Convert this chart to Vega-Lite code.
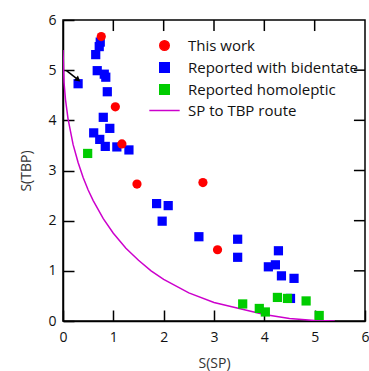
{
  "$schema": "https://vega.github.io/schema/vega-lite/v6.json",
  "width": 302,
  "height": 301,
  "autosize": "none",
  "padding": {"left": 63, "top": 20, "right": 4, "bottom": 50},
  "background": "white",
  "config": {
    "view": {"stroke": "black", "strokeWidth": 1.5},
    "font": "Open Sans",
    "axis": {
      "domainColor": "black", "domainWidth": 1.5, "tickColor": "black", "tickWidth": 1.5,
      "tickSize": -11, "labelFontSize": 14, "labelColor": "#111", "titleFontSize": 14,
      "titleFontWeight": "normal", "titleColor": "#333", "grid": false, "labelFlush": false
    }
  },
  "datasets": {
    "points": [
      {"x": 0.74, "y": 5.56, "type": "Reported with bidentate"},
      {"x": 0.72, "y": 5.47, "type": "Reported with bidentate"},
      {"x": 0.65, "y": 5.31, "type": "Reported with bidentate"},
      {"x": 0.68, "y": 4.99, "type": "Reported with bidentate"},
      {"x": 0.82, "y": 4.92, "type": "Reported with bidentate"},
      {"x": 0.85, "y": 4.86, "type": "Reported with bidentate"},
      {"x": 0.30, "y": 4.73, "type": "Reported with bidentate"},
      {"x": 0.88, "y": 4.57, "type": "Reported with bidentate"},
      {"x": 0.80, "y": 4.06, "type": "Reported with bidentate"},
      {"x": 0.93, "y": 3.84, "type": "Reported with bidentate"},
      {"x": 0.61, "y": 3.75, "type": "Reported with bidentate"},
      {"x": 0.73, "y": 3.62, "type": "Reported with bidentate"},
      {"x": 0.84, "y": 3.48, "type": "Reported with bidentate"},
      {"x": 1.07, "y": 3.47, "type": "Reported with bidentate"},
      {"x": 1.31, "y": 3.41, "type": "Reported with bidentate"},
      {"x": 1.86, "y": 2.34, "type": "Reported with bidentate"},
      {"x": 2.09, "y": 2.30, "type": "Reported with bidentate"},
      {"x": 1.97, "y": 1.99, "type": "Reported with bidentate"},
      {"x": 2.70, "y": 1.68, "type": "Reported with bidentate"},
      {"x": 3.47, "y": 1.63, "type": "Reported with bidentate"},
      {"x": 3.47, "y": 1.27, "type": "Reported with bidentate"},
      {"x": 4.28, "y": 1.40, "type": "Reported with bidentate"},
      {"x": 4.22, "y": 1.12, "type": "Reported with bidentate"},
      {"x": 4.08, "y": 1.08, "type": "Reported with bidentate"},
      {"x": 4.34, "y": 0.90, "type": "Reported with bidentate"},
      {"x": 4.59, "y": 0.85, "type": "Reported with bidentate"},
      {"x": 4.52, "y": 0.45, "type": "Reported with bidentate"},
      {"x": 0.49, "y": 3.34, "type": "Reported homoleptic"},
      {"x": 3.57, "y": 0.34, "type": "Reported homoleptic"},
      {"x": 3.90, "y": 0.25, "type": "Reported homoleptic"},
      {"x": 4.02, "y": 0.18, "type": "Reported homoleptic"},
      {"x": 4.26, "y": 0.47, "type": "Reported homoleptic"},
      {"x": 4.46, "y": 0.45, "type": "Reported homoleptic"},
      {"x": 4.83, "y": 0.40, "type": "Reported homoleptic"},
      {"x": 5.09, "y": 0.11, "type": "Reported homoleptic"},
      {"x": 0.76, "y": 5.67, "type": "This work"},
      {"x": 1.04, "y": 4.27, "type": "This work"},
      {"x": 1.17, "y": 3.53, "type": "This work"},
      {"x": 1.47, "y": 2.73, "type": "This work"},
      {"x": 2.78, "y": 2.76, "type": "This work"},
      {"x": 3.07, "y": 1.42, "type": "This work"}
    ],
    "route": [
      {"x": 0.0, "y": 5.40, "type": "SP to TBP route"},
      {"x": 0.02, "y": 4.76, "type": "SP to TBP route"},
      {"x": 0.05, "y": 4.41, "type": "SP to TBP route"},
      {"x": 0.1, "y": 4.03, "type": "SP to TBP route"},
      {"x": 0.2, "y": 3.52, "type": "SP to TBP route"},
      {"x": 0.3, "y": 3.16, "type": "SP to TBP route"},
      {"x": 0.4, "y": 2.86, "type": "SP to TBP route"},
      {"x": 0.5, "y": 2.61, "type": "SP to TBP route"},
      {"x": 0.6, "y": 2.40, "type": "SP to TBP route"},
      {"x": 0.8, "y": 2.04, "type": "SP to TBP route"},
      {"x": 1.0, "y": 1.75, "type": "SP to TBP route"},
      {"x": 1.25, "y": 1.45, "type": "SP to TBP route"},
      {"x": 1.5, "y": 1.21, "type": "SP to TBP route"},
      {"x": 1.75, "y": 1.00, "type": "SP to TBP route"},
      {"x": 2.0, "y": 0.83, "type": "SP to TBP route"},
      {"x": 2.5, "y": 0.56, "type": "SP to TBP route"},
      {"x": 3.0, "y": 0.37, "type": "SP to TBP route"},
      {"x": 3.5, "y": 0.25, "type": "SP to TBP route"},
      {"x": 4.0, "y": 0.13, "type": "SP to TBP route"},
      {"x": 4.5, "y": 0.05, "type": "SP to TBP route"},
      {"x": 5.0, "y": 0.01, "type": "SP to TBP route"},
      {"x": 5.4, "y": 0.0, "type": "SP to TBP route"}
    ],
    "arrow": [
      {"x": 0.07, "y": 4.99},
      {"x": 0.31, "y": 4.80}
    ],
    "arrowhead": [
      {"x": 0.30, "y": 4.81}
    ],
    "topticks": [{"x": 1}, {"x": 2}, {"x": 3}, {"x": 4}, {"x": 5}],
    "rightticks": [{"y": 1}, {"y": 2}, {"y": 3}, {"y": 4}, {"y": 5}]
  },
  "layer": [
    {
      "data": {"name": "route"},
      "mark": {"type": "line", "color": "#cc00cc", "strokeWidth": 1.5, "clip": true},
      "encoding": {
        "x": {"field": "x", "type": "quantitative", "scale": {"domain": [0, 6], "nice": false},
              "axis": {"values": [0,1,2,3,4,5,6], "title": "S(SP)", "labelPadding": 20, "titlePadding": 12}},
        "y": {"field": "y", "type": "quantitative", "scale": {"domain": [0, 6], "nice": false},
              "axis": {"values": [0,1,2,3,4,5,6], "title": "S(TBP)", "labelPadding": 18, "titlePadding": 14}},
        "color": {"field": "type", "type": "nominal",
          "scale": {"domain": ["This work", "Reported with bidentate", "Reported homoleptic", "SP to TBP route"],
                    "range": ["#ff0000", "#0000ff", "#00cc00", "#cc00cc"]},
          "legend": {"title": null, "orient": "none", "legendX": 94, "legendY": 18, "labelFontSize": 15, "labelColor": "#111", "labelLimit": 300,
                     "symbolSize": 90, "rowPadding": 5, "labelOffset": 16, "symbolStrokeWidth": 1.5,
                     "encode": {"symbols": {"update": {"stroke": {"scale": "color", "field": "value"}}}}}}
      }
    },
    {
      "data": {"name": "topticks"},
      "mark": {"type": "rule", "color": "black", "strokeWidth": 1.5},
      "encoding": {
        "x": {"field": "x", "type": "quantitative"},
        "y": {"datum": 6, "type": "quantitative"},
        "y2": {"datum": 5.78}
      }
    },
    {
      "data": {"name": "rightticks"},
      "mark": {"type": "rule", "color": "black", "strokeWidth": 1.5},
      "encoding": {
        "y": {"field": "y", "type": "quantitative"},
        "x": {"datum": 6, "type": "quantitative"},
        "x2": {"datum": 5.78}
      }
    },
    {
      "data": {"name": "points"},
      "mark": {"type": "point", "filled": true, "opacity": 1, "size": 85},
      "encoding": {
        "x": {"field": "x", "type": "quantitative"},
        "y": {"field": "y", "type": "quantitative"},
        "color": {"field": "type", "type": "nominal"},
        "shape": {"field": "type", "type": "nominal",
          "scale": {"domain": ["This work", "Reported with bidentate", "Reported homoleptic", "SP to TBP route"],
                    "range": ["circle", "square", "square", "M-3.2,0H3.2"]},
          "legend": {"title": null, "orient": "none", "legendX": 94, "legendY": 18, "labelFontSize": 15, "labelColor": "#111", "labelLimit": 300,
                     "symbolSize": 90, "rowPadding": 5, "labelOffset": 16, "symbolStrokeWidth": 1.5,
                     "encode": {"symbols": {"update": {"stroke": {"scale": "color", "field": "value"}}}}}}
      }
    },
    {
      "data": {"name": "arrow"},
      "mark": {"type": "line", "color": "black", "strokeWidth": 1.5},
      "encoding": {
        "x": {"field": "x", "type": "quantitative"},
        "y": {"field": "y", "type": "quantitative"}
      }
    },
    {
      "data": {"name": "arrowhead"},
      "mark": {"type": "point", "shape": "triangle-right", "filled": true, "color": "black", "opacity": 1, "size": 40, "angle": 39},
      "encoding": {
        "x": {"field": "x", "type": "quantitative"},
        "y": {"field": "y", "type": "quantitative"}
      }
    }
  ]
}
